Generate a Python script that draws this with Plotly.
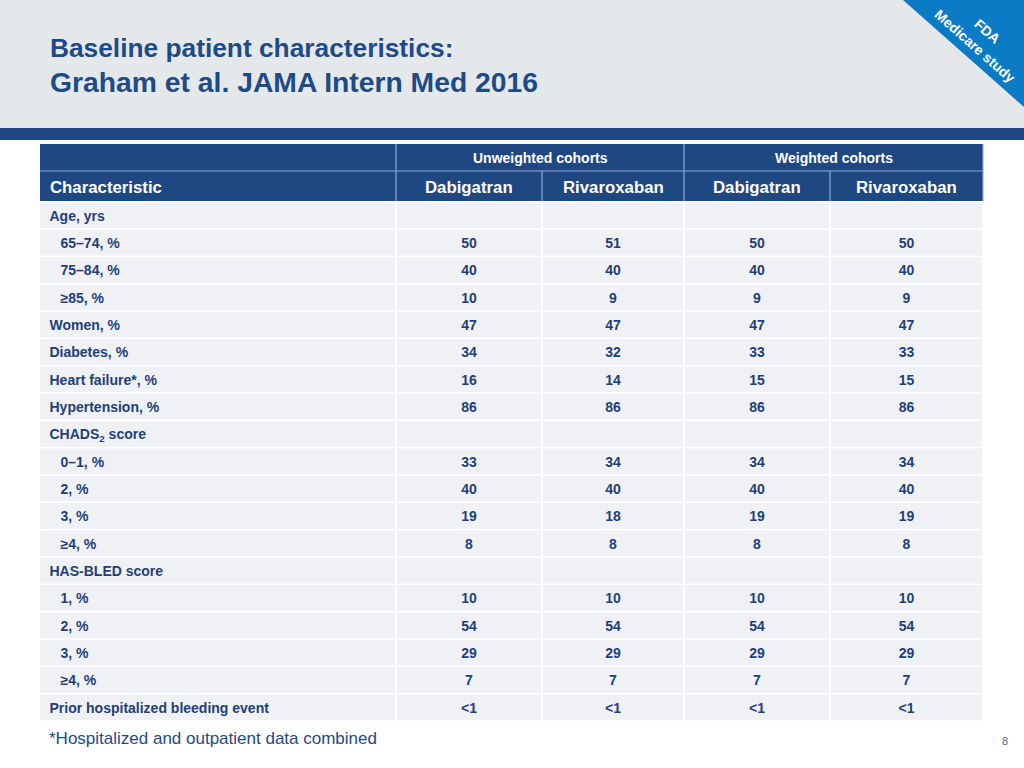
import plotly.graph_objects as go

# ---------------- data ----------------
title_lines = ["Baseline patient characteristics:", "Graham et al. JAMA Intern Med 2016"]
group_headers = ["Unweighted cohorts", "Weighted cohorts"]
col_headers = ["Characteristic", "Dabigatran", "Rivaroxaban", "Dabigatran", "Rivaroxaban"]
row_labels = ["Age, yrs", "65–74, %", "75–84, %", "≥85, %", "Women, %", "Diabetes, %",
              "Heart failure*, %", "Hypertension, %", "CHADS<sub>2</sub> score", "0–1, %", "2, %",
              "3, %", "≥4, %", "HAS-BLED score", "1, %", "2, %", "3, %", "≥4, %",
              "Prior hospitalized bleeding event"]
row_indent = [0, 1, 1, 1, 0, 0, 0, 0, 0, 1, 1, 1, 1, 0, 1, 1, 1, 1, 0]
unweighted_dabigatran = ["", "50", "40", "10", "47", "34", "16", "86", "", "33", "40", "19", "8", "", "10", "54", "29", "7", "<1"]
unweighted_rivaroxaban = ["", "51", "40", "9", "47", "32", "14", "86", "", "34", "40", "18", "8", "", "10", "54", "29", "7", "<1"]
weighted_dabigatran = ["", "50", "40", "9", "47", "33", "15", "86", "", "34", "40", "19", "8", "", "10", "54", "29", "7", "<1"]
weighted_rivaroxaban = ["", "50", "40", "9", "47", "33", "15", "86", "", "34", "40", "19", "8", "", "10", "54", "29", "7", "<1"]
footnote = "*Hospitalized and outpatient data combined"
page_number = "8"
ribbon_lines = ["FDA", "Medicare study"]

# ---------------- style / geometry ----------------
W, H = 1024, 768
FONT = "Liberation Sans, Arial, sans-serif"
DARK = "#1F4782"
TXT = "#1F3F78"
TITLE_C = "#1E4B86"
CELL = "#EFF1F4"
SEP = "#8FA8D6"

col_edges = [40, 396, 542, 684, 830, 983]
h1_top, h1_bot, h2_bot = 144, 171, 201
row_top0, row_pitch, row_gap = 202.5, 27.33, 1.6
text_dy = 1.8

shapes = []
# top gray band and dark bar
shapes.append(dict(type="rect", x0=0, x1=W, y0=0, y1=128, fillcolor="#E4E8EB", line_width=0, layer="below"))
shapes.append(dict(type="rect", x0=0, x1=W, y0=128, y1=140, fillcolor=DARK, line_width=0, layer="below"))
# ribbon triangle
shapes.append(dict(type="path", path=f"M 903 0 L {W} 0 L {W} 107 Z", fillcolor="#0B7BC5", line_width=0))

# header cells
shapes.append(dict(type="rect", x0=col_edges[0], x1=col_edges[-1], y0=h1_top, y1=h2_bot,
                   fillcolor=DARK, line_width=0))
# header separators
sep_line = dict(color=SEP, width=1.2)
shapes.append(dict(type="line", x0=col_edges[0], x1=col_edges[-1], y0=h1_bot, y1=h1_bot, line=sep_line))
shapes.append(dict(type="line", x0=col_edges[1], x1=col_edges[1], y0=h1_top, y1=h2_bot, line=sep_line))
shapes.append(dict(type="line", x0=col_edges[3], x1=col_edges[3], y0=h1_top, y1=h2_bot, line=sep_line))
for xe in (col_edges[2], col_edges[4]):
    shapes.append(dict(type="line", x0=xe, x1=xe, y0=h1_bot, y1=h2_bot, line=sep_line))
shapes.append(dict(type="line", x0=col_edges[-1], x1=col_edges[-1], y0=h1_top, y1=h2_bot, line=sep_line))

# body cells
n = len(row_labels)
row_centers = []
for i in range(n):
    y0 = row_top0 + row_pitch * i
    y1 = y0 + row_pitch - row_gap
    row_centers.append((y0 + y1) / 2 + text_dy)
    for c in range(5):
        shapes.append(dict(type="rect", x0=col_edges[c] + (0 if c == 0 else 1), x1=col_edges[c + 1] - 1,
                           y0=y0, y1=y1, fillcolor=CELL, line_width=0, layer="below"))

fig = go.Figure()

# row labels
fig.add_trace(go.Scatter(
    x=[49.5 + 11 * ind for ind in row_indent], y=row_centers, text=row_labels, mode="text",
    textposition="middle right", textfont=dict(family=FONT, size=14, color=TXT, weight="bold"),
    hoverinfo="skip", showlegend=False, cliponaxis=False))

# values
value_cols = [unweighted_dabigatran, unweighted_rivaroxaban, weighted_dabigatran, weighted_rivaroxaban]
for c, vals in enumerate(value_cols):
    xc = (col_edges[c + 1] + col_edges[c + 2]) / 2
    fig.add_trace(go.Scatter(
        x=[xc] * n, y=row_centers, text=vals, mode="text", textposition="middle center",
        textfont=dict(family=FONT, size=14, color=TXT, weight="bold"),
        hoverinfo="skip", showlegend=False, cliponaxis=False))

annotations = []
# title
title_sizes = [26.3, 28.3]
title_y = [48, 82]
for k, line in enumerate(title_lines):
    annotations.append(dict(x=48, y=title_y[k], text=f"<b>{line}</b>", xanchor="left", yanchor="middle",
                            showarrow=False, font=dict(family=FONT, size=title_sizes[k], color=TITLE_C)))
# group headers
annotations.append(dict(x=(col_edges[1] + col_edges[3]) / 2, y=(h1_top + h1_bot) / 2 + 0.5, text=f"<b>{group_headers[0]}</b>",
                        showarrow=False, font=dict(family=FONT, size=14, color="white")))
annotations.append(dict(x=(col_edges[3] + col_edges[5]) / 2, y=(h1_top + h1_bot) / 2 + 0.5, text=f"<b>{group_headers[1]}</b>",
                        showarrow=False, font=dict(family=FONT, size=14, color="white")))
# column headers
annotations.append(dict(x=48, y=(h1_bot + h2_bot) / 2 + 1, text=f"<b>{col_headers[0]}</b>", xanchor="left",
                        showarrow=False, font=dict(family=FONT, size=16.8, color="white")))
for c in range(1, 5):
    annotations.append(dict(x=(col_edges[c] + col_edges[c + 1]) / 2, y=(h1_bot + h2_bot) / 2 + 1,
                            text=f"<b>{col_headers[c]}</b>", showarrow=False,
                            font=dict(family=FONT, size=16.8, color="white")))
# footnote & page number
annotations.append(dict(x=47, y=738, text=footnote, xanchor="left", showarrow=False,
                        font=dict(family=FONT, size=17, color=TITLE_C)))
annotations.append(dict(x=1005, y=741, text=page_number, showarrow=False,
                        font=dict(family=FONT, size=11, color="#4A6A9A")))
# ribbon text
annotations.append(dict(x=987, y=31, text=f"<b>{ribbon_lines[0]}</b>", textangle=41.5, showarrow=False,
                        font=dict(family=FONT, size=14, color="white")))
annotations.append(dict(x=975, y=46, text=f"<b>{ribbon_lines[1]}</b>", textangle=41.5, showarrow=False,
                        font=dict(family=FONT, size=14, color="white")))

fig.update_layout(
    width=W, height=H, margin=dict(l=0, r=0, t=0, b=0),
    paper_bgcolor="white", plot_bgcolor="white",
    xaxis=dict(range=[0, W], visible=False, fixedrange=True),
    yaxis=dict(range=[H, 0], visible=False, fixedrange=True),
    shapes=shapes, annotations=annotations, showlegend=False,
)

fig.write_html("out.html", config={"displayModeBar": False},
               post_script="document.body.style.margin='0';document.body.style.overflow='hidden';")
